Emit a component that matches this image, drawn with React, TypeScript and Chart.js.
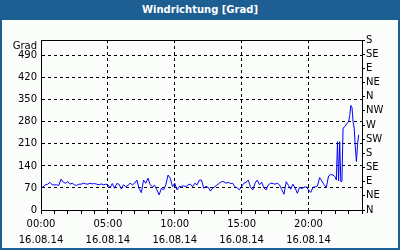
import React, { useEffect, useRef } from "react";
import { Chart, registerables } from "chart.js";

Chart.register(...registerables);

const chartTitle = "Windrichtung [Grad]";
const yUnit = "Grad";
const dateLabel = "16.08.14";

const times = [
  "00:00", "00:10", "00:20", "00:30", "00:40", "00:50",
  "01:00", "01:10", "01:20", "01:30", "01:40", "01:50",
  "02:00", "02:10", "02:20", "02:30", "02:40", "02:50",
  "03:00", "03:10", "03:20", "03:30", "03:40", "03:50",
  "04:00", "04:10", "04:20", "04:30", "04:40", "04:50",
  "05:00", "05:10", "05:20", "05:30", "05:40", "05:50",
  "06:00", "06:10", "06:20", "06:30", "06:40", "06:50",
  "07:00", "07:10", "07:20", "07:30", "07:40", "07:50",
  "08:00", "08:10", "08:20", "08:30", "08:40", "08:50",
  "09:00", "09:10", "09:20", "09:30", "09:40", "09:50",
  "10:00", "10:10", "10:20", "10:30", "10:40", "10:50",
  "11:00", "11:10", "11:20", "11:30", "11:40", "11:50",
  "12:00", "12:10", "12:20", "12:30", "12:40", "12:50",
  "13:00", "13:10", "13:20", "13:30", "13:40", "13:50",
  "14:00", "14:10", "14:20", "14:30", "14:40", "14:50",
  "15:00", "15:10", "15:20", "15:30", "15:40", "15:50",
  "16:00", "16:10", "16:20", "16:30", "16:40", "16:50",
  "17:00", "17:10", "17:20", "17:30", "17:40", "17:50",
  "18:00", "18:10", "18:20", "18:30", "18:40", "18:50",
  "19:00", "19:10", "19:20", "19:30", "19:40", "19:50",
  "20:00", "20:10", "20:20", "20:30", "20:40", "20:50",
  "21:00", "21:10", "21:20", "21:30", "21:40", "21:50",
  "22:00", "22:05", "22:10", "22:15", "22:20", "22:25",
  "22:30", "22:35", "22:40", "22:45", "22:50", "22:55",
  "23:00", "23:05", "23:10", "23:15", "23:20", "23:25",
  "23:30", "23:35", "23:40", "23:45",
];

const directions = [
  70, 74, 80, 82, 88, 80,
  80, 80, 78, 98, 88, 85,
  90, 82, 85, 80, 78, 82,
  82, 85, 83, 82, 85, 83,
  84, 82, 80, 83, 80, 82,
  80, 71, 84, 69, 84, 82,
  67, 80, 74, 78, 85, 80,
  85, 95, 69, 55, 95, 85,
  101, 80, 74, 78, 64, 48,
  69, 64, 80, 111, 101, 74,
  85, 64, 74, 75, 77, 74,
  80, 82, 74, 85, 80, 95,
  95, 69, 75, 72, 60, 70,
  74, 80, 85, 90, 90, 85,
  88, 84, 85, 74, 70, 64,
  75, 85, 88, 95, 72, 64,
  85, 95, 80, 88, 70, 64,
  80, 85, 84, 82, 85, 80,
  65, 50, 90, 78, 66, 82,
  70, 53, 72, 68, 72, 74,
  64, 56, 72, 74, 76, 103,
  92, 80, 72, 108, 113, 111,
  105, 95, 217, 92, 217, 90,
  92, 260, 263, 266, 273, 277,
  281, 300, 332, 326, 281, 260,
  200, 154, 207, 239,
];

const leftTicks = [0, 70, 140, 210, 280, 350, 420, 490];
const rightTicks = [0, 45, 90, 135, 180, 225, 270, 315, 360, 405, 450, 495, 540];
const compassLabels = ["N", "NE", "E", "SE", "S", "SW", "W", "NW", "N", "NE", "E", "SE", "S"];
const hourTicks = [0, 1, 2, 3, 4, 5, 6, 7, 8, 9, 10, 11, 12, 13, 14, 15, 16, 17, 18, 19, 20, 21, 22, 23, 24];
const labeledHours = [0, 5, 10, 15, 20];

const BLUE = "#1d5e93";
const FONT_FAMILY = "'DejaVu Sans', sans-serif";

const toHours = (t: string) => {
  const [h, m] = t.split(":").map(Number);
  return h + m / 60;
};

const pad2 = (n: number) => (n < 10 ? "0" + n : "" + n);

export default function App() {
  const canvasRef = useRef<HTMLCanvasElement | null>(null);

  useEffect(() => {
    document.body.style.margin = "0";
    const canvas = canvasRef.current;
    if (!canvas) return;

    const frame = {
      id: "frame",
      afterDraw(chart: any) {
        const { ctx, chartArea } = chart;
        ctx.save();
        ctx.strokeStyle = "#000";
        ctx.lineWidth = 1;
        ctx.beginPath();
        ctx.moveTo(chartArea.left, chartArea.top + 0.5);
        ctx.lineTo(chartArea.right, chartArea.top + 0.5);
        ctx.stroke();
        ctx.fillStyle = "#000";
        ctx.font = `10px ${FONT_FAMILY}`;
        ctx.textAlign = "right";
        ctx.textBaseline = "middle";
        ctx.fillText(yUnit, chartArea.left - 4, chartArea.top + 6);
        ctx.restore();
      },
    };

    const chart = new Chart(canvas, {
      type: "line",
      data: {
        datasets: [
          {
            data: times.map((t, i) => ({ x: toHours(t), y: directions[i] })),
            borderColor: "#0000ff",
            borderWidth: 1,
            pointRadius: 0,
            tension: 0,
            fill: false,
            yAxisID: "y",
          },
        ],
      },
      options: {
        animation: false,
        responsive: false,
        maintainAspectRatio: false,
        layout: { padding: { left: 0, right: 0, top: 40, bottom: 0 } },
        plugins: {
          legend: { display: false },
          tooltip: { enabled: false },
          title: { display: false },
        },
        scales: {
          x: {
            type: "linear",
            min: 0,
            max: 24,
            afterBuildTicks: (s: any) => {
              s.ticks = hourTicks.map((v) => ({ value: v }));
            },
            afterFit: (s: any) => {
              s.height = 40;
            },
            grid: {
              color: (c: any) =>
                c.tick && labeledHours.includes(c.tick.value) && c.tick.value !== 0
                  ? "#000"
                  : "rgba(0,0,0,0)",
              tickColor: "#000",
              tickLength: 4,
              lineWidth: 1,
            },
            border: { display: true, color: "#000", dash: [3, 3] },
            ticks: {
              color: "#000",
              font: { family: FONT_FAMILY, size: 10, lineHeight: 1.6 },
              padding: 2,
              maxRotation: 0,
              minRotation: 0,
              autoSkip: false,
              callback: (v: any) =>
                labeledHours.includes(v) ? [pad2(v) + ":00", dateLabel] : "",
            },
          },
          y: {
            type: "linear",
            position: "left",
            min: 0,
            max: 540,
            afterBuildTicks: (s: any) => {
              s.ticks = leftTicks.map((v) => ({ value: v }));
            },
            afterFit: (s: any) => {
              s.width = 41;
            },
            grid: {
              color: (c: any) => (c.tick && c.tick.value === 0 ? "rgba(0,0,0,0)" : "#000"),
              drawTicks: false,
              lineWidth: 1,
            },
            border: { display: true, color: "#000", dash: [3, 3] },
            ticks: {
              color: "#000",
              font: { family: FONT_FAMILY, size: 10 },
              padding: 4,
              autoSkip: false,
              callback: (v: any) => String(v),
            },
          },
          y2: {
            type: "linear",
            position: "right",
            min: 0,
            max: 540,
            afterBuildTicks: (s: any) => {
              s.ticks = rightTicks.map((v) => ({ value: v }));
            },
            afterFit: (s: any) => {
              s.width = 38;
            },
            grid: {
              drawOnChartArea: false,
              tickColor: "#000",
              tickLength: 3,
            },
            border: { display: true, color: "#000" },
            ticks: {
              color: "#000",
              font: { family: FONT_FAMILY, size: 10 },
              padding: 1,
              autoSkip: false,
              callback: (_v: any, i: number) => compassLabels[i],
            },
          },
        },
      },
      plugins: [frame],
    } as any);

    return () => chart.destroy();
  }, []);

  return (
    <div
      style={{
        position: "absolute",
        left: 0,
        top: 0,
        width: 400,
        height: 250,
        background: BLUE,
        overflow: "hidden",
      }}
    >
      <div
        style={{
          position: "absolute",
          left: 0,
          top: 0,
          width: 400,
          height: 20,
          lineHeight: "20px",
          textAlign: "center",
          color: "#fff",
          fontFamily: FONT_FAMILY,
          fontWeight: "bold",
          fontSize: 10,
        }}
      >
        {chartTitle}
      </div>
      <div
        style={{
          position: "absolute",
          left: 2,
          top: 20,
          width: 396,
          height: 228,
          background: "#fbfdfb",
        }}
      />
      <canvas
        ref={canvasRef}
        width={400}
        height={250}
        style={{ position: "absolute", left: 0, top: 0, width: 400, height: 250 }}
      />
    </div>
  );
}
